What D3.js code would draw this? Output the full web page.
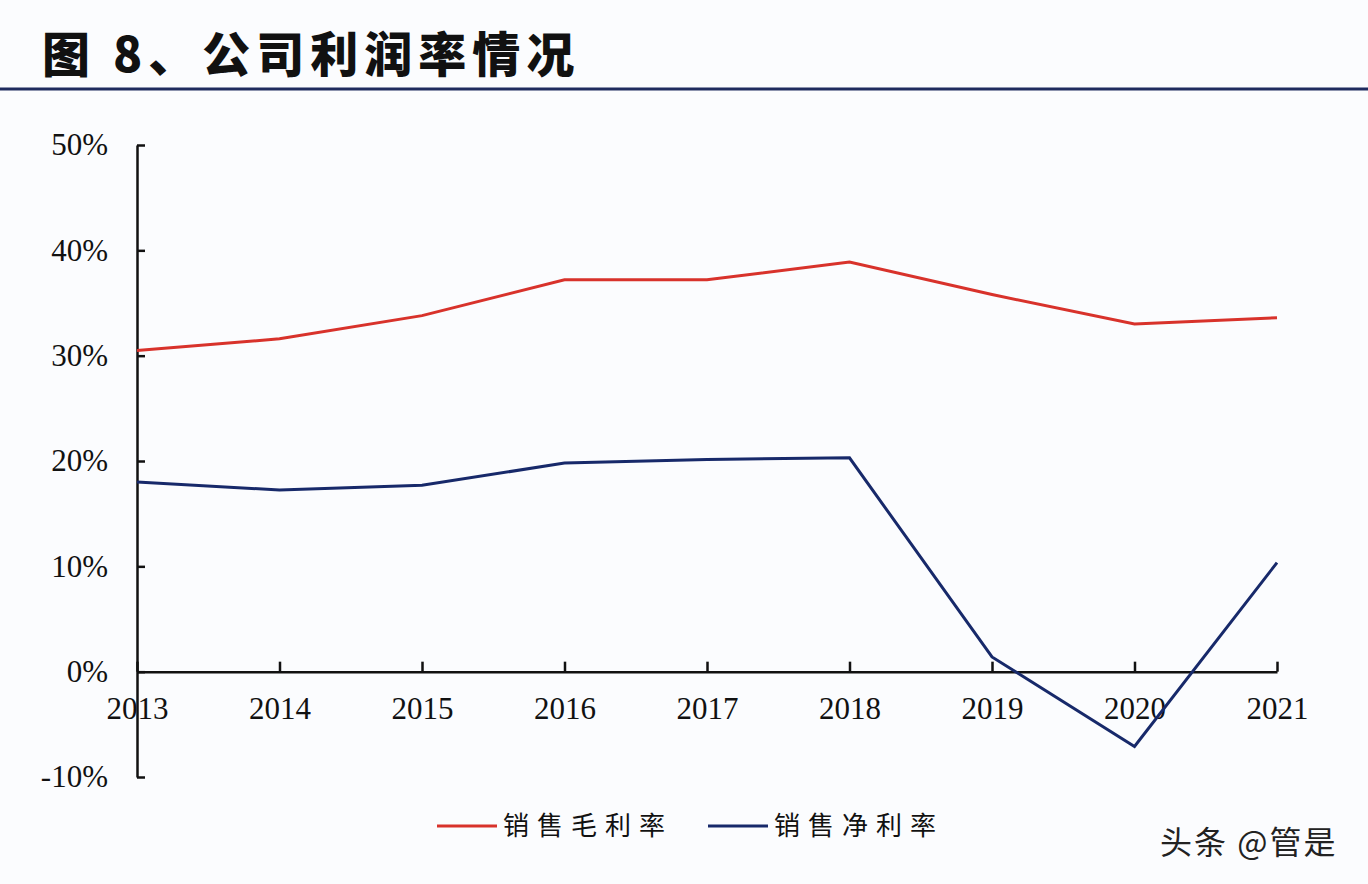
<!DOCTYPE html>
<html>
<head>
<meta charset="utf-8">
<script src="https://cdn.jsdelivr.net/npm/d3@7"></script>
<style>
  html, body { margin: 0; padding: 0; background: #fbfcfe; }
  svg { display: block; }
</style>
</head>
<body>
<div id="chart"></div>
<script>
// Data
const years = ["2013", "2014", "2015", "2016", "2017", "2018", "2019", "2020", "2021"];
const grossMargin = [30.5, 31.6, 33.8, 37.2, 37.2, 38.9, 35.8, 33.0, 33.6];
const netMargin = [18.0, 17.25, 17.7, 19.8, 20.15, 20.3, 1.4, -7.1, 10.35];
const yTicks = [-10, 0, 10, 20, 30, 40, 50];
const seriesNames = ["销售毛利率", "销售净利率"];

const width = 1368, height = 884;
const margin = { top: 145, right: 91, bottom: 107, left: 137 };

const svg = d3.select("#chart")
    .append("svg")
    .attr("width", width)
    .attr("height", height);

svg.append("rect")
    .attr("width", width)
    .attr("height", height)
    .attr("fill", "#fbfcfe");

// Title and rule under it
svg.append("text")
    .attr("x", 42)
    .attr("y", 72)
    .attr("font-family", "'Noto Sans CJK SC', sans-serif")
    .attr("font-weight", 900)
    .attr("font-size", 48)
    .attr("letter-spacing", 6)
    .attr("fill", "#111")
    .text("图 8、公司利润率情况");

svg.append("line")
    .attr("x1", 0).attr("x2", width)
    .attr("y1", 89).attr("y2", 89)
    .attr("stroke", "#1f2b5e")
    .attr("stroke-width", 3);

// Scales
const x = d3.scalePoint()
    .domain(years)
    .range([margin.left, width - margin.right]);

const y = d3.scaleLinear()
    .domain([-10, 50])
    .range([height - margin.bottom, margin.top]);

// Y axis, ticks pointing inward
const yAxis = svg.append("g")
    .attr("transform", `translate(${margin.left},0)`)
    .call(d3.axisLeft(y).tickValues(yTicks).tickSize(-8).tickSizeOuter(0).tickPadding(29).tickFormat(d => d + "%"));

// X axis on the zero line, ticks pointing up
const xAxis = svg.append("g")
    .attr("transform", `translate(0,${y(0)})`)
    .call(d3.axisBottom(x).tickSize(-10).tickSizeOuter(0).tickPadding(26));

[yAxis, xAxis].forEach(g => {
    g.select(".domain").attr("stroke", "#111").attr("stroke-width", 2.5);
    g.selectAll(".tick line").attr("stroke", "#111").attr("stroke-width", 2.5);
    g.selectAll(".tick text")
        .attr("font-family", "'Liberation Serif', 'Times New Roman', serif")
        .attr("font-size", 31)
        .attr("fill", "#111");
});
yAxis.selectAll(".tick text").attr("dy", "0.32em");
xAxis.selectAll(".tick text").attr("dy", "0.68em");

// Lines
const line = d3.line()
    .x((d, i) => x(years[i]))
    .y(d => y(d));

const colors = ["#d8322b", "#17296a"];

svg.selectAll("path.series")
    .data([grossMargin, netMargin])
    .join("path")
    .attr("class", "series")
    .attr("fill", "none")
    .attr("stroke", (d, i) => colors[i])
    .attr("stroke-width", 3)
    .attr("stroke-linejoin", "miter")
    .attr("d", line);

// Legend
const legendX = [437, 708];
const legend = svg.selectAll("g.legend")
    .data(seriesNames)
    .join("g")
    .attr("class", "legend")
    .attr("transform", (d, i) => `translate(${legendX[i]},826)`);

legend.append("line")
    .attr("x1", 0).attr("x2", 60)
    .attr("stroke", (d, i) => colors[i])
    .attr("stroke-width", 3);

legend.append("text")
    .attr("x", 66)
    .attr("y", 0)
    .attr("dy", "0.35em")
    .attr("font-family", "'Noto Sans CJK SC', sans-serif")
    .attr("font-size", 26)
    .attr("letter-spacing", 8)
    .attr("fill", "#111")
    .text(d => d);

// Watermark
svg.append("text")
    .attr("x", 1160)
    .attr("y", 854)
    .attr("font-family", "'Noto Sans CJK SC', sans-serif")
    .attr("font-size", 32)
    .attr("letter-spacing", 2)
    .attr("fill", "#222")
    .text("头条 @管是");
</script>
</body>
</html>
